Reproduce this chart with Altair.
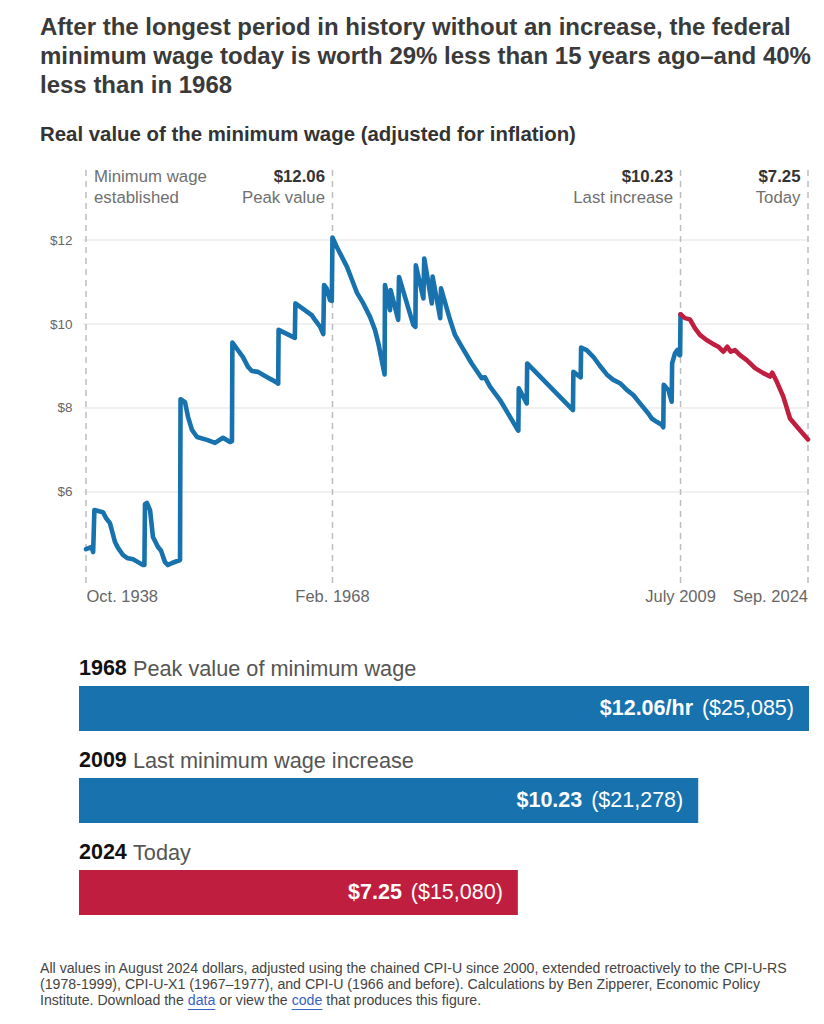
import altair as alt
import pandas as pd

BLUE = "#1772ae"
RED = "#c01e3e"
FONT = "Liberation Sans"

# ---------------- data ----------------
title_lines = [
    "After the longest period in history without an increase, the federal",
    "minimum wage today is worth 29% less than 15 years ago\u2013and 40%",
    "less than in 1968",
]
subtitle = "Real value of the minimum wage (adjusted for inflation)"

blue_year = [1938.75, 1939.43, 1939.6, 1939.75, 1940.77, 1941.13, 1941.6, 1942.2, 1942.56,
             1943.15, 1943.63, 1944.34, 1944.94, 1945.53, 1945.7, 1945.77, 1946.0, 1946.37,
             1946.72, 1947.32, 1947.68, 1948.15, 1948.5, 1948.99, 1949.94, 1950.0, 1950.53,
             1950.89, 1951.36, 1951.96, 1953.15, 1954.1, 1955.05, 1955.89, 1956.12, 1956.17,
             1957.43, 1958.03, 1958.5, 1959.22, 1960.05, 1960.88, 1961.48, 1961.62, 1961.67,
             1963.6, 1963.67, 1965.61, 1966.0, 1966.6, 1966.99, 1967.08, 1967.39, 1967.79,
             1968.0, 1968.08, 1968.58, 1969.81, 1970.56, 1971.0, 1971.75, 1972.55, 1973.14,
             1973.54, 1974.28, 1974.33, 1974.93, 1975.0, 1975.9, 1976.0, 1977.7, 1977.95,
             1978.0, 1978.9, 1979.0, 1979.9, 1980.0, 1980.9, 1981.0, 1982.07, 1982.66,
             1983.46, 1984.65, 1985.84, 1986.23, 1986.83, 1988.02, 1989.21, 1990.0, 1990.2,
             1990.25, 1991.2, 1991.25, 1996.7, 1996.75, 1997.62, 1997.67, 1998.33, 1999.12,
             1999.92, 2000.72, 2001.5, 2002.3, 2003.1, 2003.88, 2004.68, 2005.67, 2006.07,
             2006.66, 2007.26, 2007.45, 2007.5, 2008.05, 2008.45, 2008.5, 2008.84, 2009.12,
             2009.36, 2009.45, 2009.5]
blue_value = [4.64, 4.69, 4.57, 5.57, 5.52, 5.38, 5.26, 4.81, 4.67,
              4.50, 4.43, 4.40, 4.33, 4.26, 4.26, 5.71, 5.74, 5.57,
              4.93, 4.69, 4.60, 4.33, 4.26, 4.31, 4.38, 8.21, 8.14,
              7.79, 7.48, 7.31, 7.24, 7.17, 7.29, 7.19, 7.21, 9.56,
              9.21, 8.98, 8.88, 8.86, 8.76, 8.67, 8.60, 8.58, 9.86,
              9.67, 10.49, 10.21, 10.10, 9.94, 9.76, 10.93, 10.85, 10.57,
              10.55, 12.06, 11.84, 11.36, 10.97, 10.74, 10.49, 10.17, 9.86,
              9.54, 8.80, 10.93, 10.33, 10.81, 10.10, 11.12, 9.98, 9.93,
              11.40, 10.61, 11.56, 10.49, 11.13, 10.14, 10.85, 10.10, 9.74,
              9.46, 9.06, 8.71, 8.73, 8.51, 8.19, 7.79, 7.52, 7.46,
              8.47, 8.11, 9.06, 7.95, 8.86, 8.73, 9.44, 9.38, 9.22,
              9.00, 8.80, 8.67, 8.59, 8.43, 8.31, 8.11, 7.87, 7.75,
              7.67, 7.60, 7.54, 8.55, 8.43, 8.15, 9.06, 9.30, 9.38,
              9.26, 9.26, 10.23]
red_year = [2009.5, 2010.02, 2010.62, 2011.21, 2011.81, 2012.6, 2013.4, 2013.99, 2014.59,
            2015.07, 2015.47, 2015.98, 2016.58, 2017.38, 2018.37, 2019.35, 2020.15, 2020.42,
            2020.95, 2021.73, 2022.53, 2023.33, 2024.67]
red_value = [10.23, 10.14, 10.11, 9.90, 9.74, 9.62, 9.52, 9.46, 9.34,
             9.46, 9.34, 9.38, 9.26, 9.14, 8.95, 8.83, 8.75, 8.84,
             8.63, 8.27, 7.75, 7.56, 7.25]

grid_values = [6, 8, 10, 12]

event_year = [1938.75, 1968.083, 2009.5, 2024.67]
event_top = ["Minimum wage", "$12.06", "$10.23", "$7.25"]
event_bottom = ["established", "Peak value", "Last increase", "Today"]
axis_labels = ["Oct. 1938", "Feb. 1968", "July 2009", "Sep. 2024"]

bar_year = ["1968", "2009", "2024"]
bar_desc = ["Peak value of minimum wage", "Last minimum wage increase", "Today"]
bar_wage = [12.06, 10.23, 7.25]
bar_wage_label = ["$12.06/hr", "$10.23", "$7.25"]
bar_annual = ["$25,085", "$21,278", "$15,080"]
bar_kind = ["past", "past", "today"]

foot_lines = [
    "All values in August 2024 dollars, adjusted using the chained CPI-U since 2000, extended retroactively to the CPI-U-RS",
    "(1978-1999), CPI-U-X1 (1967\u20131977), and CPI-U (1966 and before). Calculations by Ben Zipperer, Economic Policy",
]
foot_last = ["Institute. Download the", "data", "or view the", "code", "that produces this figure."]

# ---------------- helpers ----------------
def txt(text, x, y, size, weight="normal", color="#333333", align="left"):
    return alt.Chart(pd.DataFrame({"t": [text]})).mark_text(
        align=align, baseline="middle", fontSize=size, fontWeight=weight,
        color=color, font=FONT
    ).encode(x=alt.value(x), y=alt.value(y), text="t:N")

W_LINE = 729
H_LINE = 413
W_BAR = 730
H_BAR = 276

xs = alt.Scale(domain=[1937.917, 2024.67], nice=False, zero=False)
ys = alt.Scale(domain=[3.833, 13.667], nice=False, zero=False)
y_axis = alt.Axis(values=grid_values, labelExpr="'$' + datum.value", ticks=False,
                  domain=False, grid=False, labelPadding=7, labelFontSize=13.5,
                  labelColor="#666666", labelFont=FONT, title=None)

line_df = pd.DataFrame({
    "year": blue_year + red_year,
    "value": blue_value + red_value,
    "series": ["before"] * len(blue_year) + ["after"] * len(red_year),
})
grid_df = pd.DataFrame({"v": grid_values})
ev_df = pd.DataFrame({"year": event_year, "top": event_top, "bottom": event_bottom})
ax_df = pd.DataFrame({"year": event_year, "label": axis_labels})

grid = alt.Chart(grid_df).mark_rule(color="#e2e2e2", strokeWidth=1).encode(
    y=alt.Y("v:Q", scale=ys, axis=y_axis), x=alt.value(4), x2=alt.value(W_LINE))

rules = alt.Chart(ev_df).mark_rule(color="#bdbdbd", strokeWidth=1.5, strokeDash=[6, 5]).encode(
    x=alt.X("year:Q", scale=xs, axis=None))

line = alt.Chart(line_df).mark_line(strokeWidth=4.6, strokeJoin="round", strokeCap="round").encode(
    x=alt.X("year:Q", scale=xs, axis=None),
    y=alt.Y("value:Q", scale=ys, axis=y_axis),
    color=alt.Color("series:N", scale=alt.Scale(domain=["before", "after"], range=[BLUE, RED]), legend=None),
    order=alt.Order("year:Q"),
)

ev_first = ev_df.iloc[[0]]
ev_rest = ev_df.iloc[1:]
ann1a = alt.Chart(ev_first).mark_text(align="left", baseline="middle", dx=8, fontSize=16.8,
                                      color="#707070", font=FONT).encode(
    x=alt.X("year:Q", scale=xs, axis=None), y=alt.value(7), text="top:N")
ann1b = alt.Chart(ev_first).mark_text(align="left", baseline="middle", dx=8, fontSize=16.8,
                                      color="#707070", font=FONT).encode(
    x=alt.X("year:Q", scale=xs, axis=None), y=alt.value(28), text="bottom:N")
ann2a = alt.Chart(ev_rest).mark_text(align="right", baseline="middle", dx=-7.5, fontSize=16.8,
                                     fontWeight="bold", color="#333333", font=FONT).encode(
    x=alt.X("year:Q", scale=xs, axis=None), y=alt.value(7), text="top:N")
ann2b = alt.Chart(ev_rest).mark_text(align="right", baseline="middle", dx=-7.5, fontSize=16.8,
                                     color="#707070", font=FONT).encode(
    x=alt.X("year:Q", scale=xs, axis=None), y=alt.value(28), text="bottom:N")

def axlab(rows, align, dx):
    return alt.Chart(ax_df.iloc[rows]).mark_text(align=align, baseline="middle", dx=dx, fontSize=16.5,
                                                color="#666666", font=FONT).encode(
        x=alt.X("year:Q", scale=xs, axis=None), y=alt.value(H_LINE + 14), text="label:N")

line_chart = alt.layer(
    grid, rules, line, ann1a, ann1b, ann2a, ann2b,
    axlab([0], "left", 0.5), axlab([1, 2], "center", 0), axlab([3], "right", 0),
    txt(title_lines[0], -39, -142, 24, "bold", "#3a3a3a"),
    txt(title_lines[1], -39, -113, 24, "bold", "#3a3a3a"),
    txt(title_lines[2], -39, -84, 24, "bold", "#3a3a3a"),
    txt(subtitle, -39, -35, 20.4, "bold", "#333333"),
).properties(width=W_LINE, height=H_LINE)

# ---------------- bars ----------------
bar_df = pd.DataFrame({
    "yr": bar_year, "desc": bar_desc, "wage": bar_wage,
    "wl": bar_wage_label, "ann": ["(" + a + ")" for a in bar_annual], "kind": bar_kind,
})
by = alt.Y("yr:N", sort=None, scale=alt.Scale(paddingInner=0, paddingOuter=0), axis=None)
bx = alt.X("wage:Q", scale=alt.Scale(domain=[0, 12.06], nice=False, zero=True), axis=None)

bars = alt.Chart(bar_df).mark_bar(size=45).encode(
    x=bx, y=by,
    color=alt.Color("kind:N", scale=alt.Scale(domain=["past", "today"], range=[BLUE, RED]), legend=None))
yr_txt = alt.Chart(bar_df).mark_text(align="left", baseline="middle", dy=-39.5, fontSize=21.5,
                                     fontWeight="bold", color="#111111", font=FONT).encode(
    x=alt.value(0), y=by, text="yr:N")
desc_txt = alt.Chart(bar_df).mark_text(align="left", baseline="middle", dy=-39.5, fontSize=21.7,
                                       color="#555555", font=FONT).encode(
    x=alt.value(54), y=by, text="desc:N")
ann_txt = alt.Chart(bar_df).mark_text(align="right", baseline="middle", dx=-15, fontSize=21.5,
                                      color="white", font=FONT).encode(
    x=bx, y=by, text="ann:N")
wl_txt = alt.Chart(bar_df).mark_text(align="right", baseline="middle", dx=-116, fontSize=21.5,
                                     fontWeight="bold", color="white", font=FONT).encode(
    x=bx, y=by, text="wl:N")

FS = 14.15
foot_y0 = 306.5
em = [0, 10.45, 12.674, 17.787, 20.233]
foot_layers = [txt(foot_lines[0], -39, foot_y0, FS, color="#444444"),
               txt(foot_lines[1], -39, foot_y0 + 16, FS, color="#444444")]
for i, part in enumerate(foot_last):
    col = "#3a62c4" if part in ("data", "code") else "#444444"
    foot_layers.append(txt(part, -39 + em[i] * FS, foot_y0 + 32, FS, color=col))
for i, wem in ((1, 1.946), (3, 2.168)):
    x0 = -39 + em[i] * FS
    foot_layers.append(
        alt.Chart(pd.DataFrame({"a": [0]})).mark_rule(color="#3a62c4", strokeWidth=1).encode(
            x=alt.value(x0), x2=alt.value(x0 + wem * FS), y=alt.value(foot_y0 + 32 + 8.5)))

bar_chart = alt.layer(bars, yr_txt, desc_txt, ann_txt, wl_txt, *foot_layers).properties(
    width=W_BAR, height=H_BAR)

chart = alt.vconcat(line_chart, bar_chart, spacing=79.5, bounds="flush").properties(
    padding={"left": 40, "top": 16, "right": 10, "bottom": 6}
).configure_view(stroke=None).configure_scale(bandPaddingInner=0)

chart.save("out.html", embed_options={"renderer": "svg", "actions": False})
